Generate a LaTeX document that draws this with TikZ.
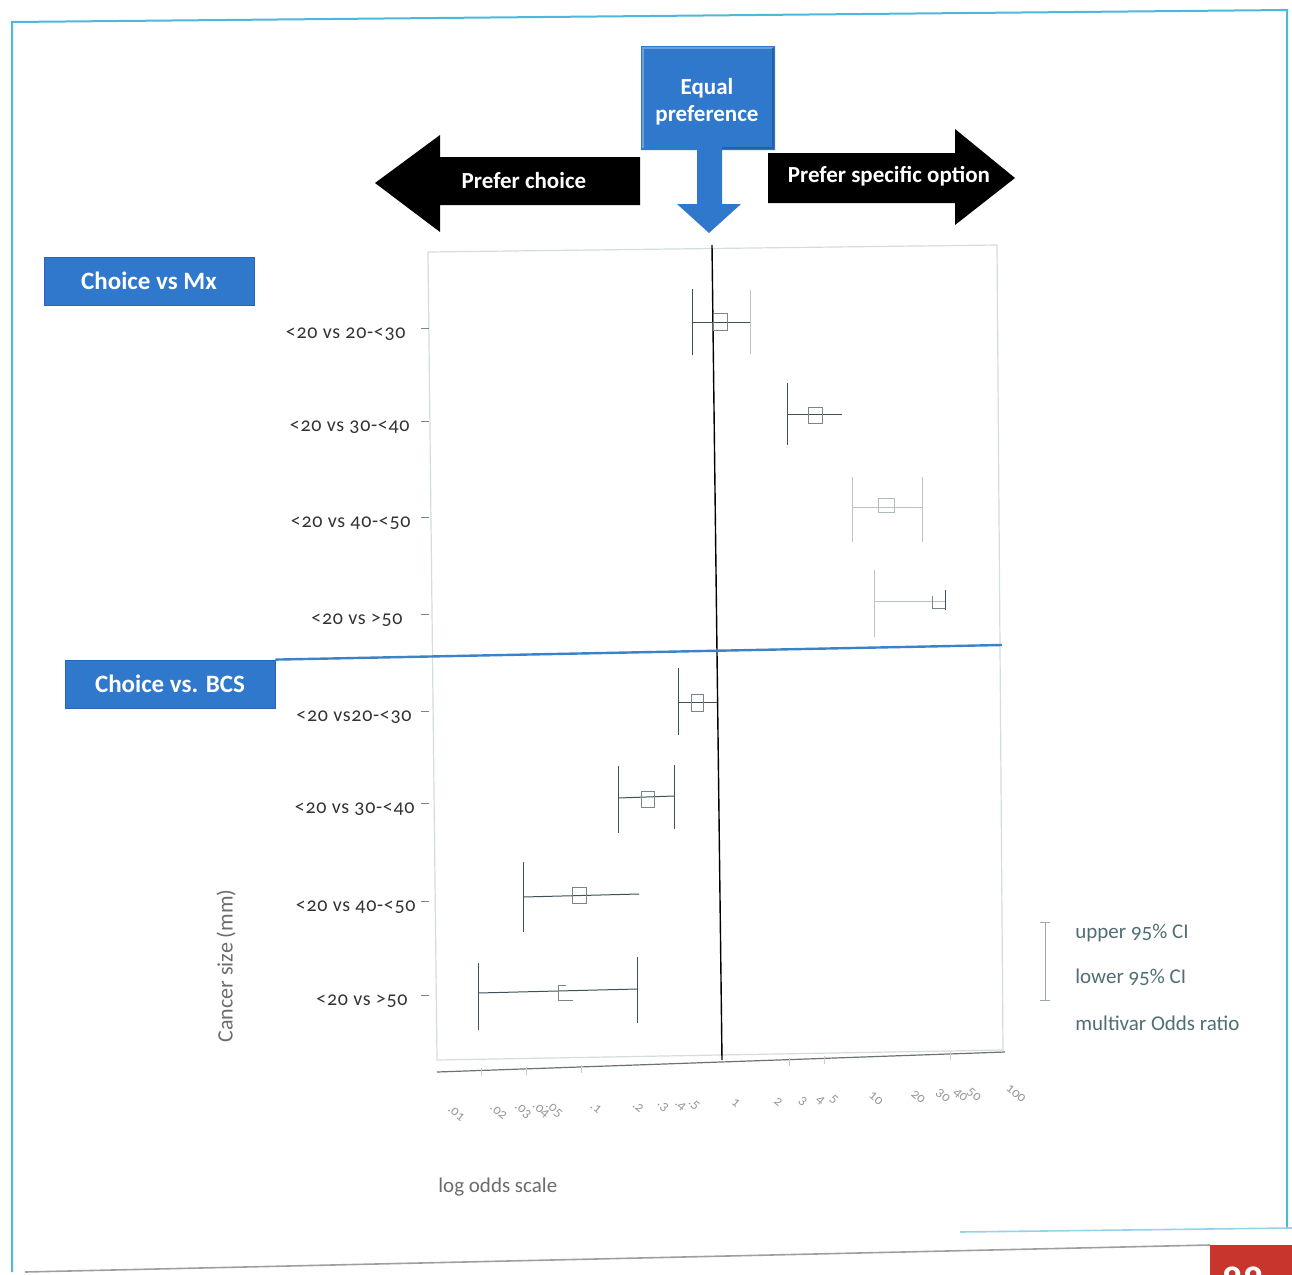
\documentclass[tikz,border=0pt]{standalone}
\usepackage{fontspec}
\setmainfont{Carlito}
\newfontfamily\plotfont[Numbers=OldStyle]{Carlito}
\newfontfamily\rowfont[Numbers=OldStyle, LetterSpace=3.5]{Carlito}
\usepackage{tikz}
\usetikzlibrary{positioning}
\definecolor{framecyan}{HTML}{4DB8DC}
\definecolor{boxblue}{HTML}{2F78CC}
\definecolor{lineblue}{HTML}{3C82C8}
\definecolor{plotgray}{HTML}{D3DCDF}
\definecolor{labelgray}{HTML}{333333}
\definecolor{citeal}{HTML}{3D5256}
\definecolor{legendtext}{HTML}{4F6E74}
\definecolor{pagered}{HTML}{C8352C}
\tikzset{
  groupbox/.style={fill=boxblue, draw=boxblue!85!black, text=white,
    font=\bfseries\fontsize{12.5}{14}\selectfont,
    minimum width=105pt, minimum height=24pt, inner sep=0pt},
  bigarrow/.style={fill=black},
  arrowtext/.style={text=white, font=\bfseries\fontsize{11.5}{13.5}\selectfont},
  rowlabel/.style={anchor=east, inner sep=0pt, text=labelgray, font=\rowfont\fontsize{10}{12}\selectfont},
  ci/.style={draw=citeal, line width=0.5pt},
  faintci/.style={draw=citeal!35, line width=0.5pt},
  ormark/.style={draw=citeal!70, line width=0.4pt},
  faintmark/.style={draw=citeal!40, line width=0.4pt},
  ticklabel/.style={text=gray!80, font=\plotfont\fontsize{7}{8}\selectfont, inner sep=0pt},
  legendtext/.style={anchor=west, inner sep=0pt, text=legendtext, font=\plotfont\fontsize{10.5}{12}\selectfont}
}

\begin{document}
\begin{tikzpicture}[x=0.5pt, y=-0.5pt]
  \useasboundingbox (0,0) rectangle (1292,1275);

  % page frame
  \draw[framecyan, line width=1pt] (12,1272) -- (12,22) -- (1287,10) -- (1287,1228);
  \draw[framecyan!60, line width=0.8pt] (960,1232) -- (1292,1228);
  \draw[gray!75, line width=0.8pt] (25,1272) -- (1210,1245);
  \fill[pagered] (1210,1245) rectangle (1292,1275);
  \begin{scope}
    \clip (1210,1245) rectangle (1292,1275);
    \node[text=white, font=\bfseries\fontsize{20}{22}\selectfont] (page) at (1243,1281) {88};
  \end{scope}

  % arrows on top
  \fill[bigarrow] (640,157) -- (440,157) -- (440,135) -- (375,183) -- (440,232)
    -- (440,205) -- (640,205) -- cycle;
  \fill[bigarrow] (768,153) -- (955,153) -- (955,129) -- (1015,178) -- (955,225)
    -- (955,203) -- (768,203) -- cycle;
  \fill[boxblue] (641,46) -- (775,46) -- (775,150) -- (722,150) -- (722,204)
    -- (741,204) -- (709,233) -- (677,204) -- (697,204) -- (697,150) -- (641,150) -- cycle;
  \draw[boxblue!70!white, line width=1pt] (643,148) -- (643,48) -- (773,48);
  \draw[boxblue!80!black, line width=0.8pt] (773,48) -- (773,148) -- (722,148);
  \node[arrowtext] (choice) at (524,181) {Prefer choice};
  \node[arrowtext] (specific) at (889,176) {Prefer specific option};
  \node[arrowtext, align=center] (equal) at (707,102) {Equal\\preference};

  % group boxes
  \node[groupbox] (mx) at (149,281) {Choice vs Mx};
  \node[groupbox] (bcs) at (170,684) {Choice vs. BCS};

  % plot area
  \draw[plotgray, line width=0.6pt] (428,252) -- (997,245) -- (1003,1050) -- (437,1060) -- cycle;
  \draw[black, line width=0.7pt] (712,245) -- (722,1060);
  \draw[lineblue, line width=1.2pt] (bcs.north east) -- (1002,645);

  % row labels and ticks
  \foreach \x/\y/\t [count=\i] in {406/334/{<20 vs 20-<30}, 410/427/{<20 vs 30-<40},
      411/523/{<20 vs 40-<50}, 403/620/{<20 vs >50}, 412/717/{<20 vs20-<30},
      415/809/{<20 vs 30-<40}, 416/907/{<20 vs 40-<50}, 408/1001/{<20 vs >50}} {
    \node[rowlabel] (r\i) at (\x,\y) {\t};
    \draw[citeal!70, line width=0.4pt] (421,\y-6) -- (429,\y-6);
  }

  % choice vs Mx
  \draw[ci] (692,289) -- (692,355);
  \draw[ci] (692,322) -- (750,322);
  \draw[faintci] (750,290) -- (750,354);
  \draw[ormark] (713,313) rectangle (727,330);
  \draw[ci] (787,383) -- (787,445);
  \draw[ci] (787,414) -- (842,414);
  \draw[ormark] (808,407) rectangle (822,423);
  \draw[faintci] (852,477) -- (852,542);
  \draw[faintci] (922,477) -- (922,542);
  \draw[faintci] (852,507) -- (922,507);
  \draw[faintmark] (878,498) rectangle (894,512);
  \draw[faintci] (874,570) -- (874,637);
  \draw[faintci] (874,601) -- (945,601);
  \draw[ormark] (932,596) -- (932,608) -- (945,608);
  \draw[ci] (945,590) -- (945,610);

  % choice vs BCS
  \draw[ci] (678,668) -- (678,735);
  \draw[ci] (678,702) -- (717,702);
  \draw[ormark] (691,694) rectangle (703,711);
  \draw[ci] (618,766) -- (618,833);
  \draw[ci] (674,765) -- (674,829);
  \draw[ci] (618,798) -- (674,796);
  \draw[ormark] (641,791) rectangle (654,807);
  \draw[ci] (523,862) -- (523,932);
  \draw[ci] (523,897) -- (639,894);
  \draw[ormark] (572,887) rectangle (586,903);
  \draw[ci] (478,963) -- (478,1030);
  \draw[ci] (637,957) -- (637,1023);
  \draw[ci] (478,993) -- (637,989);
  \draw[ormark] (566,985) -- (558,985) -- (558,1000) -- (573,1000);

  % x axis
  \draw[gray!70!citeal, line width=0.6pt] (437,1072) -- (1005,1052);
  \foreach \v/\t [count=\i] in {0.01/.01, 0.02/.02, 0.03/.03, 0.04/.04, 0.05/.05,
      0.1/.1, 0.2/.2, 0.3/.3, 0.4/.4, 0.5/.5, 1/1, 2/2, 3/3, 4/4, 5/5,
      10/10, 20/20, 30/30, 40/40, 50/50, 100/100} {
    \pgfmathsetmacro\px{736+140*ln(\v)/ln(10)}
    \pgfmathsetmacro\py{1113-(\px-460)*0.035}
    \node[ticklabel, rotate=-40] (t\i) at (\px,\py) {\t};
  }
  \foreach \x in {481,526,581,789,824,950}
    \draw[gray!40] (\x,{1070-(\x-437)*0.035}) -- (\x,{1078-(\x-437)*0.035});

  \node[anchor=west, inner sep=0pt, text=gray!85!black, font=\fontsize{10.5}{13}\selectfont] (xlab) at (438,1187) {log odds scale};
  \node[rotate=90, text=gray!85!black, font=\fontsize{11}{13}\selectfont] (ylab) at (226,966) {Cancer size (mm)};

  % legend
  \draw[citeal!50, line width=0.5pt] (1045,922) -- (1045,1000);
  \draw[citeal!50, line width=0.5pt] (1040,922) -- (1050,922);
  \draw[citeal!50, line width=0.5pt] (1040,1000) -- (1050,1000);
  \node[legendtext] (upper) at (1075,933) {upper 95\% CI};
  \node[legendtext, below=22pt of upper.west, anchor=west] (lower) {lower 95\% CI};
  \node[legendtext, below=23pt of lower.west, anchor=west] (oddsr) {multivar Odds ratio};
\end{tikzpicture}
\end{document}
